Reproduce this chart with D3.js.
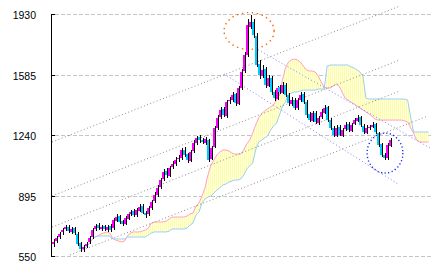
<!DOCTYPE html>
<html>
<head>
<meta charset="utf-8">
<script src="https://cdn.jsdelivr.net/npm/d3@7"></script>
<style>
html, body { margin:0; padding:0; background:#fff; }
svg { display:block; }
.lbl { font-family:"Liberation Sans", Arial, sans-serif; font-size:10.5px; fill:#000; }
</style>
</head>
<body>
<svg id="chart" width="432" height="270"></svg>
<script>
// price ticks on the left axis
var yTicks = [550, 895, 1240, 1585, 1930];

// candles (one per period)
var opens = [
  620,640,660,690,705,720,690,712,680,625,
  590,610,630,660,705,730,705,722,700,725,
  710,752,780,750,738,765,790,810,785,812,
  840,800,790,825,865,900,945,990,1040,1010,
  1060,1075,1105,1110,1160,1135,1095,1150,1195,1230,
  1215,1200,1215,1105,1175,1280,1345,1390,1350,1435,
  1440,1475,1420,1510,1605,1700,1860,1890,1810,1650,
  1580,1620,1525,1570,1490,1450,1515,1485,1530,1470,
  1420,1445,1395,1440,1475,1430,1360,1325,1370,1310,
  1345,1370,1400,1330,1280,1240,1290,1240,1275,1305,
  1265,1305,1325,1345,1295,1255,1280,1290,1305,1255,
  1190,1130,1110,1180];
var highs = [
  650,668,690,715,730,728,718,720,688,632,
  618,635,665,710,738,740,728,732,730,735,
  768,790,788,760,780,805,818,820,828,850,
  848,810,838,872,915,955,1000,1048,1052,1068,
  1092,1118,1130,1170,1175,1142,1158,1212,1240,1245,
  1225,1232,1222,1180,1295,1355,1400,1402,1445,1460,
  1490,1482,1525,1618,1715,1905,1930,1905,1822,1668,
  1640,1632,1585,1580,1502,1525,1530,1545,1540,1480,
  1458,1452,1455,1490,1488,1440,1372,1380,1378,1352,
  1390,1412,1408,1340,1292,1298,1300,1285,1315,1315,
  1312,1342,1355,1352,1305,1298,1302,1318,1312,1262,
  1198,1142,1198,1225];
var lows = [
  605,628,650,675,695,685,680,672,610,575,
  578,598,620,650,695,700,695,698,692,690,
  702,745,738,725,730,758,780,778,776,805,
  790,770,782,818,855,892,935,980,1000,1002,
  1050,1065,1090,1100,1118,1085,1088,1140,1185,1200,
  1190,1188,1090,1098,1168,1270,1335,1345,1342,1420,
  1430,1410,1412,1500,1595,1690,1845,1798,1630,1565,
  1570,1510,1515,1470,1435,1440,1475,1478,1460,1410,
  1408,1385,1388,1432,1420,1342,1315,1318,1305,1300,
  1335,1362,1318,1270,1230,1232,1235,1232,1265,1260,
  1258,1298,1315,1290,1248,1248,1270,1280,1250,1175,
  1115,1098,1102,1172];
var closes = [
  633,655,678,701,718,695,707,684,621,593,
  604,621,655,701,724,712,718,707,718,701,
  758,775,747,735,770,792,804,787,815,832,
  798,787,827,861,901,941,986,1032,1015,1055,
  1077,1100,1112,1157,1129,1100,1146,1197,1226,1214,
  1203,1220,1100,1169,1283,1340,1385,1357,1431,1442,
  1471,1425,1511,1602,1699,1870,1887,1813,1642,1585,
  1614,1528,1568,1488,1454,1511,1488,1528,1471,1425,
  1442,1397,1442,1471,1431,1357,1328,1368,1317,1340,
  1374,1397,1328,1283,1243,1283,1243,1271,1300,1271,
  1300,1328,1340,1300,1260,1283,1288,1300,1260,1186,
  1129,1112,1186,1214];

// ichimoku cloud, first value sits at period 10, runs past the last candle
var cloudStart = 10;
var spanA = [
  587,604,621,644,661,667,678,684,690,684,
  655,644,638,633,638,667,684,690,690,690,
  695,701,712,741,747,747,747,747,752,764,
  775,775,775,775,775,781,792,798,838,855,
  895,941,1015,1072,1100,1129,1146,1157,1157,1152,
  1140,1134,1134,1134,1157,1192,1214,1254,1300,1340,
  1363,1380,1391,1403,1414,1442,1471,1557,1625,1659,
  1671,1676,1671,1659,1636,1614,1608,1608,1602,1579,
  1545,1517,1511,1511,1522,1534,1522,1488,1454,1442,
  1431,1420,1408,1397,1385,1374,1363,1351,1334,1328,
  1328,1328,1328,1328,1328,1328,1328,1328,1323,1317,
  1283,1254,1214,1203,1203,1203,1203];
var spanB = [
  587,604,621,644,661,667,667,667,667,667,
  650,650,650,650,650,661,661,661,661,661,
  661,661,673,684,690,690,690,690,690,695,
  707,707,707,707,707,712,730,741,787,804,
  855,878,889,895,912,929,941,958,963,975,
  980,986,986,992,1015,1049,1066,1083,1157,1203,
  1214,1226,1237,1271,1294,1311,1357,1408,1431,1477,
  1482,1488,1488,1494,1499,1499,1499,1499,1499,1505,
  1505,1505,1636,1642,1642,1642,1642,1642,1642,1642,
  1631,1625,1614,1602,1579,1454,1448,1448,1448,1448,
  1448,1448,1448,1448,1448,1448,1448,1448,1448,1442,
  1345,1260,1260,1260,1260,1260,1260];

// hand-drawn lines: [period0, price0, period1, price1]
var upTrend = [
  [-0.3, 1203, 116.4, 1978],
  [-0.3, 895, 116.4, 1671],
  [-0.3, 718, 116.4, 1494],
  [5.7, 559, 125.8, 1351]];
var downTrend = [
  [67.8, 1739, 126.5, 1169],
  [57.4, 1591, 115.8, 963]];
// marked areas: [period, price, period radius, price radius]
var marks = [
  [65.8, 1836, 8.4, 105],
  [111.4, 1140, 6.0, 114]];

var svg = d3.select("#chart");
var x = d3.scaleLinear().domain([0, 126]).range([53, 428.5]);
var y = d3.scaleLinear().domain([550, 1930]).range([256.5, 14.5]);

var defs = svg.append("defs");
var pat = defs.append("pattern")
  .attr("id", "kumo")
  .attr("patternUnits", "userSpaceOnUse")
  .attr("width", 2).attr("height", 4);
pat.append("rect").attr("width", 2).attr("height", 4).attr("fill", "#fffff0");
pat.append("rect").attr("width", 1).attr("height", 4).attr("fill", "#ffff99");

// grid
svg.append("g").selectAll("line").data(yTicks).join("line")
  .attr("x1", 55).attr("x2", 432)
  .attr("y1", function(d){ return Math.floor(y(d)) + 0.5; })
  .attr("y2", function(d){ return Math.floor(y(d)) + 0.5; })
  .attr("stroke", "#c4c4c4")
  .attr("stroke-dasharray", "4,2");

// cloud
var cloud = spanA.map(function(a, k){ return {i: k + cloudStart, a: a, b: spanB[k]}; });
svg.append("path").datum(cloud)
  .attr("fill", "url(#kumo)")
  .attr("d", d3.area()
    .x(function(d){ return x(d.i); })
    .y0(function(d){ return y(d.b); })
    .y1(function(d){ return y(d.a); }));
svg.append("path").datum(cloud)
  .attr("fill", "none").attr("stroke", "#ffa0c0").attr("stroke-width", 1)
  .attr("d", d3.line().x(function(d){ return x(d.i); }).y(function(d){ return y(d.a); }));
svg.append("path").datum(cloud)
  .attr("fill", "none").attr("stroke", "#99ccff").attr("stroke-width", 1)
  .attr("d", d3.line().x(function(d){ return x(d.i); }).y(function(d){ return y(d.b); }));

// trend lines
svg.append("g").selectAll("line").data(upTrend).join("line")
  .attr("x1", function(d){ return x(d[0]); }).attr("y1", function(d){ return y(d[1]); })
  .attr("x2", function(d){ return x(d[2]); }).attr("y2", function(d){ return y(d[3]); })
  .attr("stroke", "#8c8c8c").attr("stroke-width", 1)
  .attr("stroke-dasharray", "1,2.4");
svg.append("g").selectAll("line").data(downTrend).join("line")
  .attr("x1", function(d){ return x(d[0]); }).attr("y1", function(d){ return y(d[1]); })
  .attr("x2", function(d){ return x(d[2]); }).attr("y2", function(d){ return y(d[3]); })
  .attr("stroke", "#8080ff").attr("stroke-width", 1)
  .attr("stroke-dasharray", "1,2.4");

// marked areas
var markColors = ["#ff6600", "#1a2aff"];
svg.append("g").selectAll("ellipse").data(marks).join("ellipse")
  .attr("cx", function(d){ return x(d[0]); })
  .attr("cy", function(d){ return y(d[1]); })
  .attr("rx", function(d){ return x(d[0] + d[2]) - x(d[0]); })
  .attr("ry", function(d){ return y(d[1] - d[3]) - y(d[1]); })
  .attr("fill", "none")
  .attr("stroke", function(d, k){ return markColors[k]; })
  .attr("stroke-width", 1.4)
  .attr("stroke-dasharray", function(d, k){ return k == 0 ? "1.4,3.6" : "1.2,2.4"; });

// candles: 2px body, wick drawn on its right edge
var candles = closes.map(function(c, i){
  return {i: i, o: opens[i], h: highs[i], l: lows[i], c: c};
});
var cg = svg.append("g").attr("shape-rendering", "crispEdges");
var cs = cg.selectAll("g").data(candles).join("g");
cs.append("rect")
  .attr("x", function(d){ return Math.round(x(d.i)) - 1; })
  .attr("width", 2)
  .attr("y", function(d){ return y(Math.max(d.o, d.c)); })
  .attr("height", function(d){ return Math.max(1, Math.abs(y(d.o) - y(d.c))); })
  .attr("fill", function(d){ return d.c >= d.o ? "#ff00ff" : "#00ccff"; });
cs.append("line")
  .attr("x1", function(d){ return Math.round(x(d.i)) + 1.5; })
  .attr("x2", function(d){ return Math.round(x(d.i)) + 1.5; })
  .attr("y1", function(d){ return y(d.h); })
  .attr("y2", function(d){ return y(d.l); })
  .attr("stroke", "#000");

// axis
var ax = svg.append("g").attr("shape-rendering", "crispEdges");
ax.append("line")
  .attr("x1", 51.5).attr("x2", 51.5)
  .attr("y1", Math.floor(y(1930))).attr("y2", Math.floor(y(550)) + 1)
  .attr("stroke", "#000");
ax.selectAll("line.tk").data(yTicks).join("line").attr("class", "tk")
  .attr("x1", 51).attr("x2", 55)
  .attr("y1", function(d){ return Math.floor(y(d)) + 0.5; })
  .attr("y2", function(d){ return Math.floor(y(d)) + 0.5; })
  .attr("stroke", "#000");
svg.append("g").selectAll("text").data(yTicks).join("text")
  .attr("class", "lbl")
  .attr("x", 36)
  .attr("y", function(d){ return Math.floor(y(d)) + 4.5; })
  .attr("text-anchor", "end")
  .text(function(d){ return d; });
</script>
</body>
</html>
